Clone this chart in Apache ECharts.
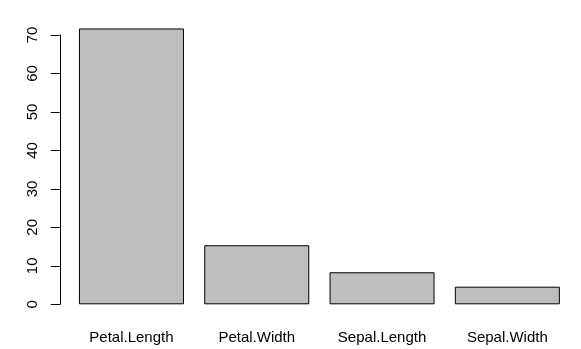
<!DOCTYPE html>
<html>
<head>
<meta charset="utf-8">
<script src="https://cdn.jsdelivr.net/npm/echarts@6/dist/echarts.min.js"></script>
<style>html,body{margin:0;padding:0;background:#fff}#c{width:581px;height:349px}</style>
</head>
<body>
<div id="c"></div>
<script>
var categories = ["Petal.Length", "Petal.Width", "Sepal.Length", "Sepal.Width"];
var values = [71.7, 15.35, 8.33, 4.58];
var yTicks = [0, 10, 20, 30, 40, 50, 60, 70];

var chart = echarts.init(document.getElementById('c'), null, {renderer: 'canvas'});
chart.setOption({
  animation: false,
  backgroundColor: '#ffffff',
  textStyle: {fontFamily: 'Liberation Sans, Arial, sans-serif'},
  grid: {left: 68.8, right: 11, top: 35, bottom: 44.7, containLabel: false},
  xAxis: {
    type: 'category',
    data: categories,
    axisLine: {show: false},
    axisTick: {show: false},
    axisLabel: {color: '#000', fontSize: 15, margin: 26, fontFamily: 'Liberation Sans, Arial, sans-serif'}
  },
  yAxis: {
    type: 'value',
    min: yTicks[0],
    max: yTicks[yTicks.length - 1],
    interval: 10,
    offset: 9,
    splitLine: {show: false},
    axisLine: {show: true, lineStyle: {color: '#000', width: 1}},
    axisTick: {show: true, length: 9, lineStyle: {color: '#000', width: 1}},
    axisLabel: {color: '#000', fontSize: 15, rotate: 90, margin: 19, fontFamily: 'Liberation Sans, Arial, sans-serif'}
  },
  series: [{
    type: 'bar',
    data: values,
    barWidth: 105,
    clip: false,
    itemStyle: {color: '#BEBEBE', borderColor: '#000', borderWidth: 1}
  }]
});
</script>
</body>
</html>
